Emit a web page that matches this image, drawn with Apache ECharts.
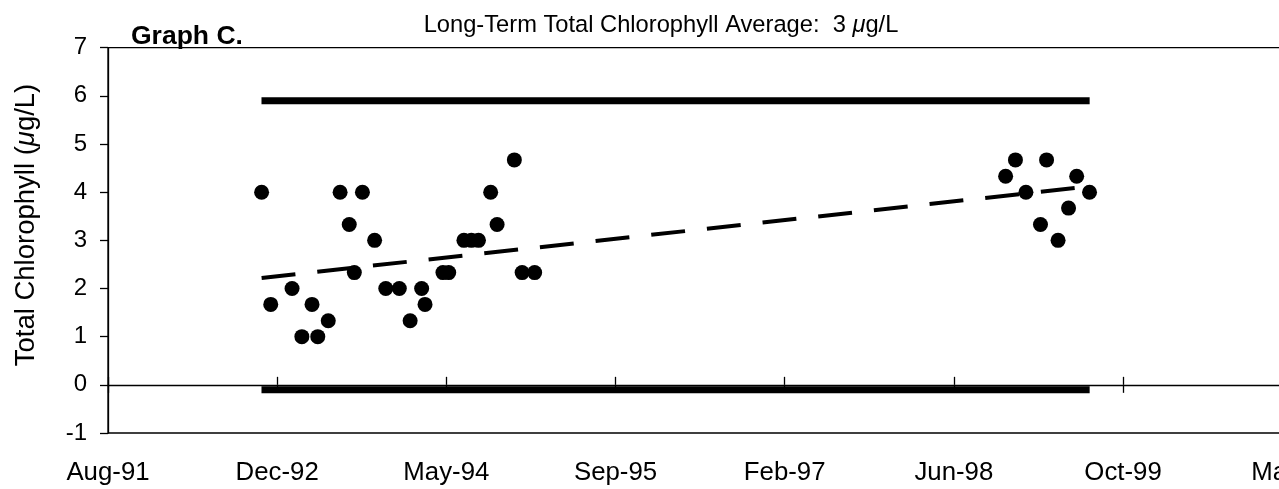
<!DOCTYPE html>
<html>
<head>
<meta charset="utf-8">
<script src="https://cdn.jsdelivr.net/npm/echarts@6/dist/echarts.min.js"></script>
<style>
  html, body { margin: 0; padding: 0; background: #fff; }
  #chart { width: 1279px; height: 489px; }
</style>
</head>
<body>
<div id="chart"></div>
<script>
// axis runs from mid Aug 1991 in steps of 500 days
var axisStart = '1991-08-13';
var tickStepDays = 500;
var tickLabels = ['Aug-91', 'Dec-92', 'May-94', 'Sep-95', 'Feb-97', 'Jun-98', 'Oct-99', 'Mar-01'];

// sample dates and total chlorophyll (ug/L)
var sampleDates = [
    '1992-11-09', '1992-12-06', '1993-02-07', '1993-03-08', '1993-04-07', '1993-04-24',
    '1993-05-25', '1993-06-29', '1993-07-26', '1993-08-10', '1993-09-03', '1993-10-09',
    '1993-11-11', '1993-12-21', '1994-01-22', '1994-02-25', '1994-03-07', '1994-04-29',
    '1994-05-16', '1994-06-30', '1994-07-22', '1994-08-12', '1994-09-17', '1994-10-06',
    '1994-11-26', '1994-12-19', '1995-01-25',
    '1998-11-17', '1998-12-16', '1999-01-16', '1999-02-28', '1999-03-18', '1999-04-21',
    '1999-05-22', '1999-06-15', '1999-07-23'
];
var chlorophyll = [
    4, 1.67, 2, 1, 1.67, 1,
    1.33, 4, 3.33, 2.33, 4, 3,
    2, 2, 1.33, 2, 1.67, 2.33,
    2.33, 3, 3, 3, 4, 3.33,
    4.67, 2.33, 2.33,
    4.33, 4.67, 4, 3.33, 4.67, 3,
    3.67, 4.33, 4
];

// reference bands and trend line
var bandDates = ['1992-11-19', '1999-07-13'];
var upperBand = [5.9, 5.9];
var lowerBand = [-0.1, -0.1];
var trendDates = ['1992-11-09', '1999-07-23'];
var trendValues = [2.22, 4.12];

function dayOffset(s) {
    return (Date.parse(s) - Date.parse(axisStart)) / 86400000;
}
function pairs(dates, vals) {
    return dates.map(function (d, i) { return [dayOffset(d), vals[i]]; });
}

var chart = echarts.init(document.getElementById('chart'));
var font = 'Liberation Sans, Arial, Helvetica, sans-serif';
var gridH = 385.3;

var baseX = {
    type: 'value',
    min: 0,
    max: tickStepDays * (tickLabels.length - 1),
    interval: tickStepDays,
    position: 'bottom',
    splitLine: { show: false },
    axisLine: { show: false, onZero: false },
    axisTick: { show: false },
    axisLabel: { show: false }
};

var option = {
    animation: false,
    backgroundColor: '#fff',
    title: [
        {
            text: 'Long-Term Total Chlorophyll Average:  3 {mu|\u03bc}g/L',
            left: 656, top: 8, textAlign: 'center',
            textStyle: {
                fontFamily: font, fontSize: 23.7, fontWeight: 'normal', color: '#000',
                rich: { mu: { fontFamily: font, fontSize: 23.7, fontStyle: 'italic', color: '#000' } }
            }
        },
        {
            text: 'Graph C.',
            left: 126, top: 18,
            textStyle: { fontFamily: font, fontSize: 26.5, fontWeight: 'bold', color: '#000' }
        }
    ],
    graphic: [{
        type: 'text',
        x: 26, y: 225, rotation: Math.PI / 2,
        style: {
            text: 'Total Chlorophyll ({mu|\u03bc}g/L)',
            font: '27.5px ' + font,
            fill: '#000',
            align: 'center',
            verticalAlign: 'middle',
            rich: { mu: { font: 'italic 27.5px ' + font, fill: '#000' } }
        }
    }],
    grid: {
        show: true,
        left: 108, top: 47.7, width: 1184.2, height: gridH,
        containLabel: false,
        outerBoundsMode: 'none',
        borderColor: '#000', borderWidth: 1.3
    },
    xAxis: [
        Object.assign({}, baseX, {
            axisLabel: {
                show: true, margin: 27, fontFamily: font, fontSize: 25.8, color: '#000',
                formatter: function (v) { return tickLabels[Math.round(v / tickStepDays)] || ''; }
            }
        }),
        Object.assign({}, baseX, {
            offset: -gridH / 8,
            axisLine: { show: true, onZero: false, lineStyle: { color: '#000', width: 1.3 } },
            axisTick: { show: true, inside: false, length: 8, lineStyle: { color: '#000', width: 1.3 } }
        }),
        Object.assign({}, baseX, {
            offset: -gridH / 8,
            axisTick: { show: true, inside: true, length: 8, lineStyle: { color: '#000', width: 1.3 } }
        })
    ],
    yAxis: {
        type: 'value',
        min: -1, max: 7, interval: 1,
        splitLine: { show: false },
        axisLine: { show: true, onZero: false, lineStyle: { color: '#000', width: 1.3 } },
        axisTick: { show: true, length: 8, lineStyle: { color: '#000', width: 1.3 } },
        axisLabel: { margin: 21, fontFamily: font, fontSize: 24, color: '#000' }
    },
    series: [
        {
            type: 'line', xAxisIndex: 0, data: pairs(bandDates, upperBand),
            symbol: 'none', lineStyle: { color: '#000', width: 7, cap: 'square' }
        },
        {
            type: 'line', xAxisIndex: 0, data: pairs(bandDates, lowerBand),
            symbol: 'none', lineStyle: { color: '#000', width: 7, cap: 'square' }
        },
        {
            type: 'line', xAxisIndex: 0, data: pairs(trendDates, trendValues),
            symbol: 'none', lineStyle: { color: '#000', width: 4, type: [34, 22] }
        },
        {
            type: 'scatter', xAxisIndex: 0, data: pairs(sampleDates, chlorophyll),
            symbol: 'circle', symbolSize: 15, itemStyle: { color: '#000', opacity: 1 }
        }
    ]
};
chart.setOption(option);
</script>
</body>
</html>
